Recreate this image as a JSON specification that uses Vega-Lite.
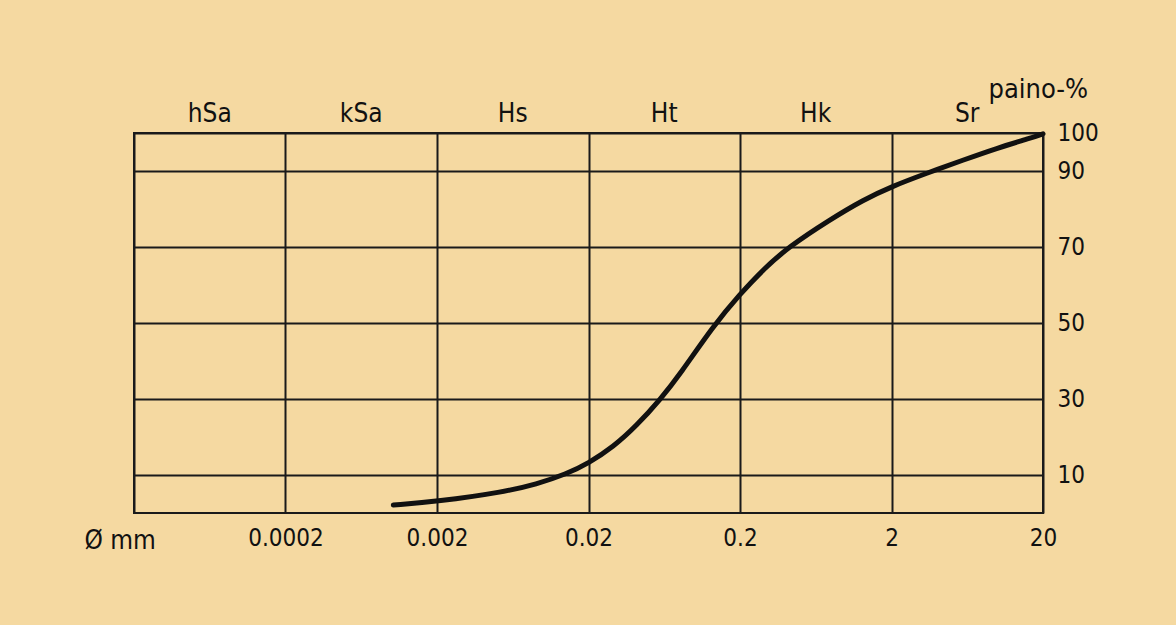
{
  "$schema": "https://vega.github.io/schema/vega-lite/v6.json",
  "width": 909,
  "height": 380,
  "autosize": {"type": "none"},
  "padding": {"left": 134, "top": 133, "right": 133, "bottom": 112},
  "background": "#f5d9a1",
  "config": {
    "view": {"stroke": "#1a1a1a", "strokeWidth": 2},
    "font": "Liberation Sans Narrow, DejaVu Sans Condensed, DejaVu Sans",
    "axis": {"labelFont": "Liberation Sans Narrow, DejaVu Sans Condensed, DejaVu Sans", "titleFont": "Liberation Sans Narrow, DejaVu Sans Condensed, DejaVu Sans"}
  },
  "datasets": {
    "curve": [
      {"d": 0.00103, "p": 2.1},
      {"d": 0.002, "p": 3.0},
      {"d": 0.00548, "p": 5.5},
      {"d": 0.0091, "p": 7.6},
      {"d": 0.0142, "p": 10.2},
      {"d": 0.02, "p": 13.1},
      {"d": 0.0292, "p": 17.4},
      {"d": 0.0416, "p": 23.0},
      {"d": 0.0593, "p": 29.8},
      {"d": 0.0804, "p": 36.5},
      {"d": 0.133, "p": 49.2},
      {"d": 0.2, "p": 57.6},
      {"d": 0.288, "p": 64.3},
      {"d": 0.421, "p": 70.1},
      {"d": 0.785, "p": 77.2},
      {"d": 1.30, "p": 82.4},
      {"d": 2, "p": 85.9},
      {"d": 3.41, "p": 89.4},
      {"d": 5.96, "p": 92.9},
      {"d": 9.89, "p": 96.0},
      {"d": 16.4, "p": 98.6},
      {"d": 20, "p": 99.8}
    ],
    "classes": [
      {"label": "hSa", "d": 0.0000632},
      {"label": "kSa", "d": 0.000632},
      {"label": "Hs", "d": 0.00632},
      {"label": "Ht", "d": 0.0632},
      {"label": "Hk", "d": 0.632},
      {"label": "Sr", "d": 6.32}
    ]
  },
  "layer": [
    {
      "data": {"name": "curve"},
      "mark": {"type": "line", "interpolate": "basis", "color": "#111111", "strokeWidth": 5, "strokeCap": "round", "clip": false},
      "encoding": {
        "x": {
          "field": "d", "type": "quantitative",
          "scale": {"type": "log", "domain": [0.00002, 20], "nice": false},
          "axis": {
            "values": [0.00002, 0.0002, 0.002, 0.02, 0.2, 2, 20],
            "labelExpr": "datum.value < 0.0001 ? '' : format(datum.value, '~g')",
            "grid": true, "gridColor": "#1a1a1a", "gridWidth": 2, "gridOpacity": 1,
            "ticks": false, "domain": false,
            "labelFontSize": 24, "labelColor": "#111111", "labelPadding": 13,
            "labelFlush": false,
            "title": "Ø mm", "titleFontSize": 26, "titleFontWeight": "normal", "titleColor": "#111111",
            "titleAlign": "left", "titleBaseline": "alphabetic", "titleX": -50, "titleY": 35
          }
        },
        "y": {
          "field": "p", "type": "quantitative",
          "scale": {"domain": [0, 100], "nice": false},
          "axis": {
            "orient": "right",
            "values": [10, 30, 50, 70, 90, 100],
            "grid": true, "gridColor": "#1a1a1a", "gridWidth": 2, "gridOpacity": 1,
            "ticks": false, "domain": false,
            "labelFontSize": 24, "labelColor": "#111111", "labelPadding": 14,
            "labelFlush": false,
            "title": "paino-%", "titleFontSize": 27, "titleFontWeight": "normal", "titleColor": "#111111",
            "titleAngle": 0, "titleAlign": "left", "titleBaseline": "alphabetic", "titleX": -55, "titleY": -36
          }
        }
      }
    },
    {
      "data": {"name": "classes"},
      "mark": {"type": "text", "fontSize": 26, "color": "#111111", "baseline": "middle", "align": "center", "clip": false},
      "encoding": {
        "x": {"field": "d", "type": "quantitative"},
        "y": {"datum": 105},
        "text": {"field": "label"}
      }
    }
  ]
}
